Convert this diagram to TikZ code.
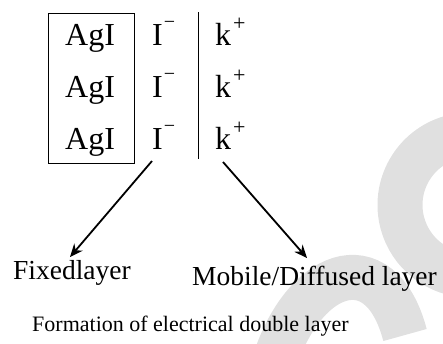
\documentclass[tikz,border=0pt]{standalone}
\usepackage{fontspec}
\setmainfont{Liberation Serif}
\usetikzlibrary{arrows.meta}
\newcommand\supminus{\hspace{1pt}\raisebox{17pt}{\fontsize{20}{20}\selectfont −}}
\newcommand\supplus{\hspace{2pt}\raisebox{15pt}{\fontsize{22}{22}\selectfont +}}
\begin{document}
\begin{tikzpicture}[x=1pt,y=-1pt,
  ion/.style={anchor=base west, inner sep=0pt, font=\fontsize{32}{38}\selectfont},
  lbl/.style={anchor=base west, inner sep=0pt, font=\fontsize{27.5}{32}\selectfont},
  captxt/.style={anchor=base west, inner sep=0pt, font=\fontsize{22}{26}\selectfont},
  rule/.style={line width=1pt},
  arr/.style={line width=1.8pt, -{Stealth[length=13pt,width=11pt]}},
  wm/.style={black!12, line width=45pt}]
\useasboundingbox (0,0) rectangle (443,343);
% watermark
\begin{scope}
\clip (0,0) rectangle (443,343);
\draw[wm] (470,205) ++(260:70) arc[start angle=260, end angle=95, radius=70];
\draw[wm] (272,370) .. controls (300,270) and (380,240) .. (405,335);
\end{scope}
% box and separator
\node[draw, rule, minimum width=86pt, minimum height=150pt, anchor=north west, inner sep=0pt] (box) at (48,13) {};
\coordinate (s1) at (198,12);
\coordinate (s2) at (198,159);
\draw[rule] (s1) -- (s2);
% ions
\node[ion] (ag1) at (65,45) {AgI};
\node[ion] (ag2) at (65,97) {AgI};
\node[ion] (ag3) at (65,149) {AgI};
\node[ion] (i1) at (152,45) {I\supminus};
\node[ion] (i2) at (152,97) {I\supminus};
\node[ion] (i3) at (152,149) {I\supminus};
\node[ion] (k1) at (215,45) {k\supplus};
\node[ion] (k2) at (215,97) {k\supplus};
\node[ion] (k3) at (215,149) {k\supplus};
% labels
\node[lbl] (fixed) at (13,279) {Fixedlayer};
\node[lbl] (mobile) at (192,285) {Mobile/Diffused layer};
\node[captxt] (caption) at (32,331) {Formation of electrical double layer};
% arrows
\coordinate (a1) at (152,161);
\coordinate (t1) at (70,257);
\coordinate (a2) at (223,162);
\coordinate (t2) at (307,258);
\draw[arr] (a1) -- (t1);
\draw[arr] (a2) -- (t2);
\end{tikzpicture}
\end{document}
